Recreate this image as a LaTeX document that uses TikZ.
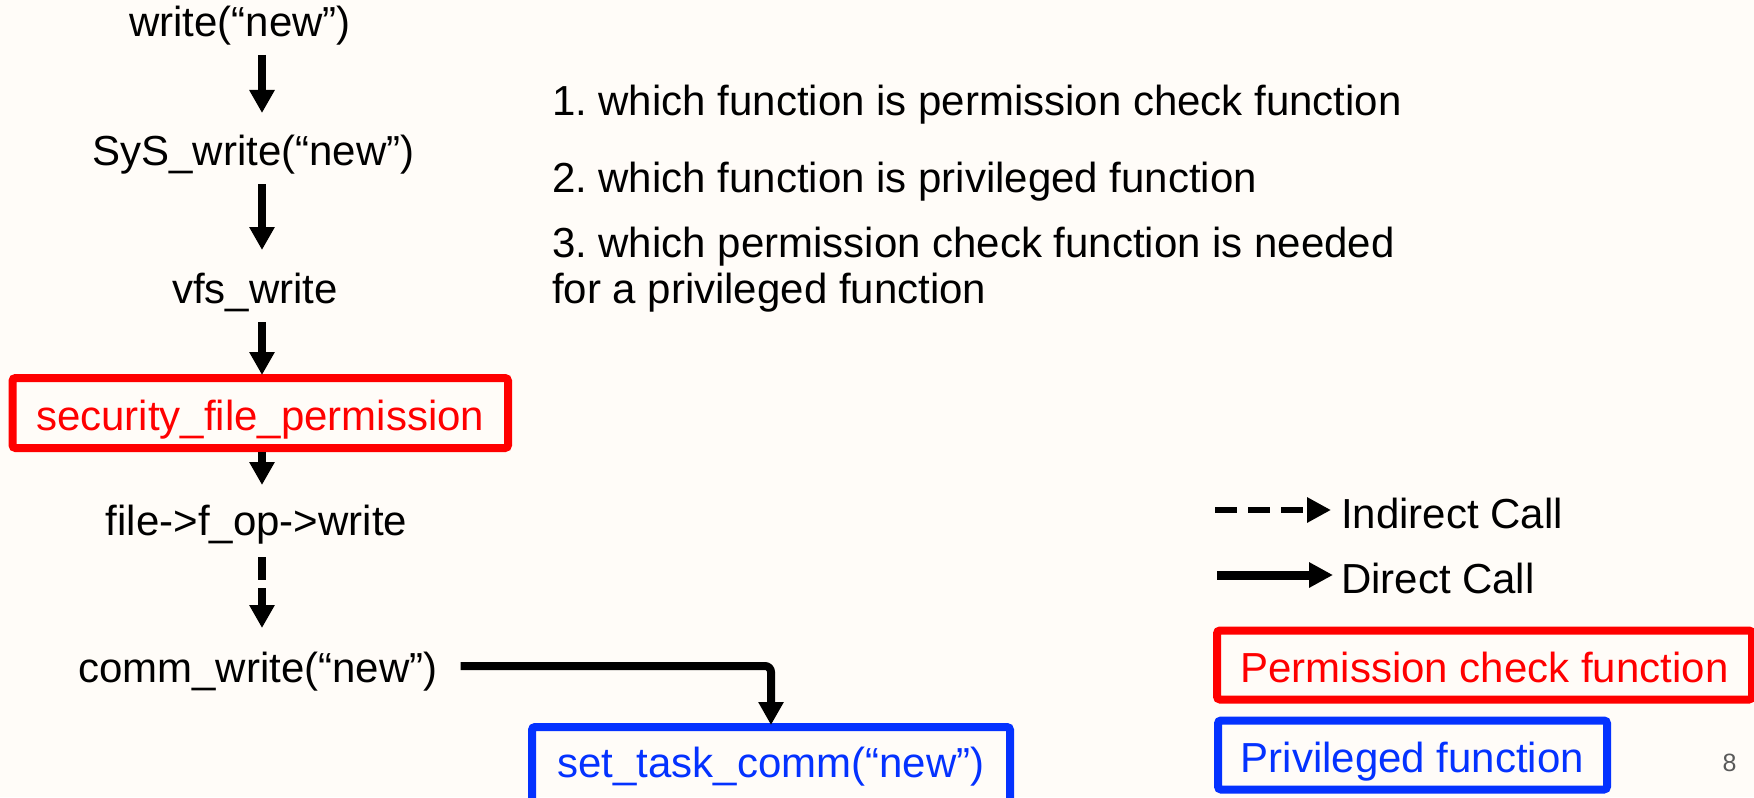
\documentclass[tikz,border=0pt]{standalone}
\usepackage{fontspec}
\setmainfont{Liberation Sans}
\usetikzlibrary{arrows.meta,calc}
\definecolor{paper}{RGB}{255,252,248}
\definecolor{permred}{RGB}{255,0,0}
\definecolor{privblue}{RGB}{4,50,255}
\definecolor{pagenum}{RGB}{89,89,89}
\frenchspacing
\begin{document}
\begin{tikzpicture}[x=0.5pt,y=-0.5pt,
  every node/.style={inner sep=0pt, outer sep=0pt, font=\fontsize{21}{23}\selectfont},
  fn/.style={anchor=base, text height=16pt, text depth=5pt},
  boxed/.style={draw, line width=4pt, rounded corners=1.5pt, text height=17pt, text depth=0pt, align=center},
  call/.style={line width=4pt, -{Triangle[width=12pt,length=11.5pt]}},
  icall/.style={call, dash pattern=on 11.5pt off 4pt},
  legsolid/.style={line width=4.5pt, -{Triangle[width=12pt,length=12pt]}},
  legdash/.style={line width=3pt, dash pattern=on 11pt off 5.5pt, -{Triangle[width=12pt,length=12pt]}},
]
% page
\fill[paper] (0,0) rectangle (1754,797);
\useasboundingbox (0,0) rectangle (1754,797);

% call chain
\coordinate (spine) at (262,0);
\node[fn] (w1) at (240,37) {write(“new”)};
\node[fn] (w2) at (253.5,165) {SyS\_write(“new”)};
\node[fn] (w3) at (255,303) {vfs\_write};
\node[boxed, draw=permred, text=permred, minimum width=247.75pt, minimum height=35pt]
  (perm) at (260.25,413) {security\_file\_permission};
\node[fn] (w5) at (256.5,535) {file->f\_op->write};
\node[fn] (w6) at (258,682) {comm\_write(“new”)};
\node[boxed, draw=privblue, text=privblue, minimum width=239pt, minimum height=43pt, text depth=10pt]
  (priv) at (771,770) {set\_task\_comm(“new”)};

\draw[call, shorten <=4pt, shorten >=10pt] (w1.south -| spine) -- (w2.north -| spine);
\draw[call, shorten <=4.5pt, shorten >=10.5pt] (w2.south -| spine) -- (w3.north -| spine);
\draw[call, shorten <=4.5pt, shorten >=1.5pt] (w3.south -| spine) -- (perm.north -| spine);
\draw[call, shorten <=2pt, shorten >=9pt] (perm.south -| spine) -- (w5.north -| spine);
\draw[icall, shorten <=6pt, shorten >=11pt] (w5.south -| spine) -- (w6.north -| spine);
\draw[call, rounded corners=3pt, shorten >=1pt] ([xshift=11.5pt,yshift=2.5pt]w6.east) -| (priv.north);

% questions
\node[anchor=base west] (q1) at (552,115) {1. which function is permission check function};
\node[anchor=base west] (q2) at (552,192) {2. which function is privileged function};
\node[anchor=base west] (q3) at (552,257) {3. which permission check function is needed};
\node[anchor=base west] (q3b) at (552,303) {for a privileged function};

% legend
\coordinate (ia) at (1215,510);
\node[anchor=base west] (ind) at (1341,528) {Indirect Call};
\draw[legdash, shorten >=5pt] (ia) -- (ia -| ind.west);
\coordinate (da) at (1217,575);
\node[anchor=base west] (dir) at (1341,593) {Direct Call};
\draw[legsolid, shorten >=4pt] (da) -- (da -| dir.west);
\node[boxed, draw=permred, text=permred, minimum width=267.5pt, minimum height=34.5pt]
  (legperm) at (1484.5,665) {Permission check function};
\node[boxed, draw=privblue, text=privblue, minimum width=194.5pt, minimum height=34.5pt]
  (legpriv) at (1412.5,755) {Privileged function};

% page number
\node[anchor=base, text=pagenum, font=\fontsize{12.5}{14}\selectfont] (pg) at (1729.5,771) {8};
\end{tikzpicture}
\end{document}
